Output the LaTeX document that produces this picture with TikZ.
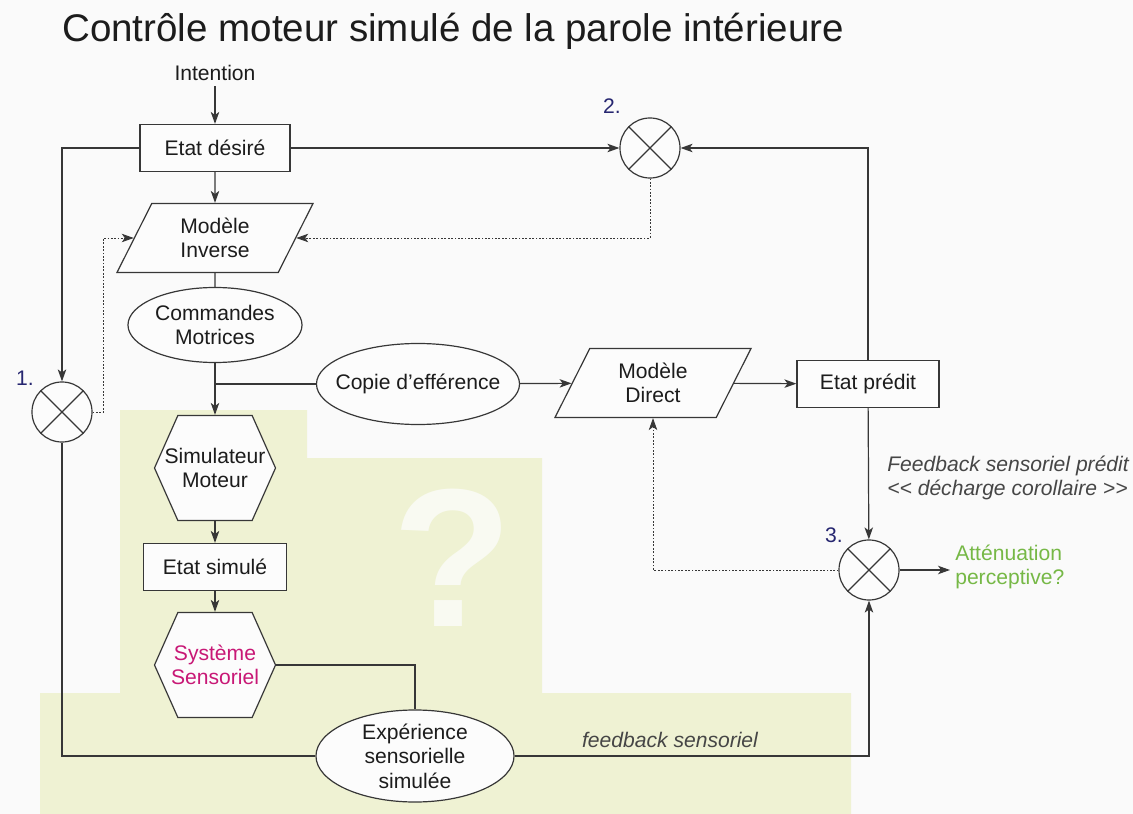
\documentclass[tikz,border=0pt]{standalone}
\usepackage{fontspec}
\setmainfont{Liberation Sans}
\usetikzlibrary{arrows.meta,shapes.geometric,shapes.symbols}

\definecolor{fond}{RGB}{250,250,250}
\definecolor{zone}{RGB}{239,242,211}
\definecolor{trait}{RGB}{55,55,55}
\definecolor{blanc}{RGB}{252,252,252}
\definecolor{encre}{RGB}{28,28,28}
\definecolor{rose}{RGB}{200,24,118}
\definecolor{vertclair}{RGB}{118,184,70}
\definecolor{bleunuit}{RGB}{38,38,112}
\definecolor{grisfonce}{RGB}{70,70,70}
\definecolor{pointinterro}{RGB}{249,250,242}

\newcommand{\police}{\fontsize{15}{17.5}\selectfont}

\begin{document}
\begin{tikzpicture}[x=0.025cm, y=-0.025cm, line width=0.85pt, text=encre,
	boite/.style={draw=trait, fill=blanc, rectangle, minimum width=3.75cm, minimum height=1.175cm, font=\police},
	bulle/.style={draw=trait, fill=blanc, ellipse, inner sep=0pt},
	hexa/.style={draw=trait, fill=blanc, signal, signal to=east and west, signal pointer angle=132, minimum width=3.025cm, minimum height=2.625cm, inner sep=0pt},
	para/.style={draw=trait, fill=blanc, trapezium, trapezium left angle=55, trapezium right angle=125, trapezium stretches body, minimum width=4.9cm, minimum height=1.725cm, align=center, font=\police},
	somme/.style={draw=trait, fill=blanc, circle, minimum size=1.5cm, inner sep=0pt,
		path picture={\draw[trait] (path picture bounding box.north west) -- (path picture bounding box.south east) (path picture bounding box.north east) -- (path picture bounding box.south west);}},
	texte/.style={align=center, font=\police},
	numero/.style={text=bleunuit, font=\police},
	fleche/.style={draw=trait, -{Stealth[length=8.5pt, width=6pt, inset=2.2pt]}},
	pointille/.style={line width=0.6pt, dash pattern=on 1.2pt off 1.2pt}]
			% Fond et zone simulee
			\useasboundingbox (0,0) rectangle (1133,814);
			\fill[fond] (0,0) rectangle (1133,814);
			\fill[zone] (120,410) -- (307,410) -- (307,458) -- (542,458) -- (542,693) -- (851,693) -- (851,814) -- (40,814) -- (40,693) -- (120,693) -- cycle;
			\node[font=\fontsize{140}{140}\selectfont\bfseries, text=pointinterro] at (453,558) (question) {?};
			
			\node[anchor=base west, font=\fontsize{27.4}{30}\selectfont] at (57,42) (titre) {Contrôle moteur simulé de la parole intérieure};
			
			% Define nodes
			\node[texte] at (215,73) (intention) {Intention};
			\node[boite] at (215,148) (desire) {Etat désiré};
			\node[para] at (215,238) (inverse) {Modèle\\Inverse};
			\node[bulle, minimum width=4.35cm, minimum height=1.875cm, label={[texte]center:{Commandes\\Motrices}}] at (215,325) (commandes) {};
			\node[bulle, minimum width=5.075cm, minimum height=2.025cm, label={[texte]center:{Copie d’efférence}}] at (418,384) (copie) {};
			\node[para] at (653,383) (direct) {Modèle\\Direct};
			\node[boite, minimum width=3.55cm] at (868,384) (predit) {Etat prédit};
			\node[hexa, label={[texte]center:{Simulateur\\Moteur}}] at (215,468) (simulateur) {};
			\node[boite, minimum width=3.575cm] at (215,567) (simule) {Etat simulé};
			\node[hexa, label={[texte, text=rose]center:{Système\\Sensoriel}}] at (215,665) (sensoriel) {};
			\node[bulle, minimum width=4.95cm, minimum height=2.3cm, label={[texte]center:{Expérience\\sensorielle\\simulée}}] at (415,756) (experience) {};
			
			\node[somme] at (62,412) (c1) {};
			\node[somme] at (650,148) (c2) {};
			\node[somme] at (869,570) (c3) {};
			\node[numero] at (25,378) (n1) {1.};
			\node[numero] at (612,106) (n2) {2.};
			\node[numero] at (834,535) (n3) {3.};
			
			\node[texte, text=vertclair, align=left, anchor=west] at (950,567) (attenuation) {Atténuation\\perceptive?};
			\node[texte, text=grisfonce, align=left, anchor=west, font=\police\itshape] at (882,478) (prevu) {Feedback sensoriel prédit\\<\kern0pt< décharge corollaire >\kern0pt>};
			\node[texte, text=grisfonce, font=\police\itshape] at (670,740) (retour) {feedback sensoriel};
			
			% Draw connectors
			\draw[fleche] (intention) -- (desire);
			\draw[fleche] (desire) -| (c1);
			\draw[fleche] (desire) -- (c2);
			\draw[fleche] (desire) -- (inverse);
			\draw[fleche, pointille] (c2) |- (inverse);
			\draw[fleche, pointille] (c1.east) -- ++(11,0) |- (inverse);
			\draw[trait] (inverse) -- (commandes);
			\draw[fleche] (commandes) -- (simulateur);
			\draw[trait] (commandes.south |- copie) -- (copie);
			\draw[fleche] (copie) -- (direct);
			\draw[fleche] (direct) -- (predit);
			\draw[fleche] (predit) |- (c2);
			\draw[fleche] (predit) -- (c3);
			\draw[fleche] (c3) -- (c3 -| attenuation.west);
			\draw[fleche, pointille] (c3) -| (direct);
			\draw[fleche] (simulateur) -- (simule);
			\draw[fleche] (simule) -- (sensoriel);
			\draw[trait] (sensoriel) -| (experience);
			\draw[trait] (experience) -| (c1);
			\draw[fleche] (experience) -| (c3);
		\end{tikzpicture}
\end{document}
